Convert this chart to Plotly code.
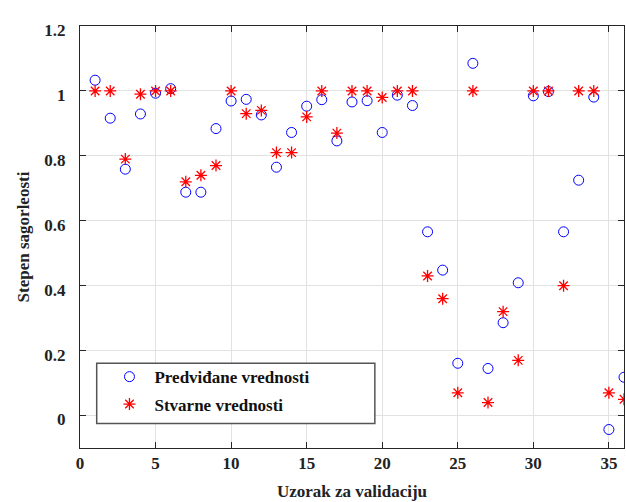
import plotly.graph_objects as go

# Validation samples 1..36
samples = list(range(1, 37))

# Model predictions (blue circles)
predicted = [1.033, 0.916, 0.759, 0.929, 0.993, 1.007, 0.688, 0.688, 0.884, 0.969,
             0.974, 0.926, 0.765, 0.872, 0.953, 0.973, 0.846, 0.966, 0.970, 0.872,
             0.987, 0.955, 0.566, 0.448, 0.161, 1.085, 0.145, 0.286, 0.409, 0.985,
             0.998, 0.566, 0.725, 0.981, -0.043, 0.118]

# Measured values (red asterisks)
actual = [1.00, 1.00, 0.79, 0.99, 1.00, 1.00, 0.72, 0.74, 0.77, 1.00,
          0.93, 0.94, 0.81, 0.81, 0.92, 1.00, 0.87, 1.00, 1.00, 0.98,
          1.00, 1.00, 0.43, 0.36, 0.07, 1.00, 0.04, 0.32, 0.17, 1.00,
          1.00, 0.40, 1.00, 1.00, 0.07, 0.05]

x_ticks = [0, 5, 10, 15, 20, 25, 30, 35]
y_ticks = [0, 0.2, 0.4, 0.6, 0.8, 1.0, 1.2]
y_tick_text = ["0", "0.2", "0.4", "0.6", "0.8", "1", "1.2"]

FONT = "Liberation Serif"
FONT_SIZE = 17
AXIS_COLOR = "#262626"
GRID_COLOR = "#e2e2e2"

fig = go.Figure()

fig.add_trace(go.Scatter(
    x=samples, y=predicted, mode="markers",
    name="<b>Predviđane vrednosti</b>",
    marker=dict(symbol="circle-open", size=10, color="#0000ff",
                line=dict(color="#0000ff", width=1)),
    legend="legend",
))

fig.add_trace(go.Scatter(
    x=samples, y=actual, mode="markers",
    name="<b>Stvarne vrednosti</b>",
    marker=dict(symbol="asterisk-open", size=10, color="#ff0000",
                line=dict(color="#ff0000", width=1.3)),
    legend="legend2",
))

axis_common = dict(
    showline=True, linecolor=AXIS_COLOR, linewidth=1, mirror="ticks",
    ticks="inside", ticklen=6, tickwidth=1, tickcolor=AXIS_COLOR,
    showgrid=True, gridcolor=GRID_COLOR, gridwidth=1, zeroline=False,
    tickfont=dict(family=FONT, size=FONT_SIZE, color="#222222", weight="bold"),
)

fig.update_xaxes(
    range=[0, 36], tickmode="array", tickvals=x_ticks,
    title=dict(text="<b>Uzorak za validaciju</b>", standoff=12,
               font=dict(family=FONT, size=FONT_SIZE, color="#222222")),
    **axis_common,
)
fig.update_yaxes(
    range=[-0.1, 1.2], tickmode="array", tickvals=y_ticks, ticktext=y_tick_text,
    ticklabelstandoff=10, ticklabelshift=4,
    title=dict(text="<b>Stepen sagorleosti</b>", standoff=10,
               font=dict(family=FONT, size=FONT_SIZE, color="#222222")),
    **axis_common,
)

legend_style = dict(
    font=dict(family=FONT, size=FONT_SIZE, color="#111111"),
    bgcolor="rgba(0,0,0,0)", borderwidth=0,
    xanchor="left", yanchor="middle", itemwidth=40,
)

fig.update_layout(
    width=626, height=502,
    margin=dict(l=80, r=2, t=26, b=54),
    paper_bgcolor="white", plot_bgcolor="white",
    showlegend=True,
    legend=dict(x=0.045, y=0.168, **legend_style),
    legend2=dict(x=0.045, y=0.103, **legend_style),
    shapes=[dict(
        type="rect", xref="paper", yref="paper",
        x0=0.0307, x1=0.542, y0=0.058, y1=0.2008,
        fillcolor="white", line=dict(color="#555555", width=1.5),
        layer="above",
    )],
)

fig.write_html("out.html")
